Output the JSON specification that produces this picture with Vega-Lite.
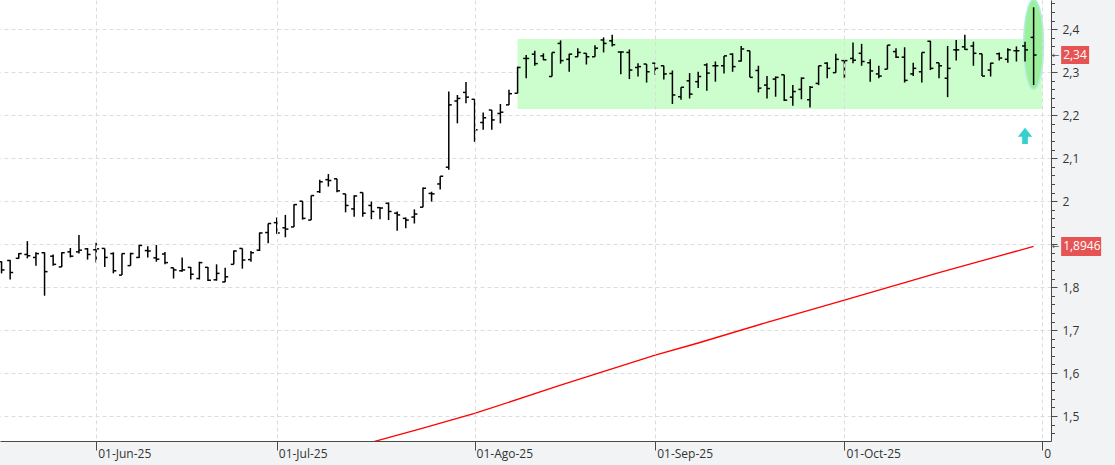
{
  "$schema": "https://vega.github.io/schema/vega-lite/v6.json",
  "width": 1051,
  "height": 441,
  "autosize": {"type": "none"},
  "padding": {"left": 0, "top": 0, "right": 64, "bottom": 24},
  "background": "#f2f3f5",
  "config": {"view": {"fill": "#ffffff", "stroke": null}},
  "datasets": {
    "ohlc": [
      {"date": "2025-05-16", "open": 1.859, "high": 1.86, "low": 1.832, "close": 1.84},
      {"date": "2025-05-19", "open": 1.862, "high": 1.863, "low": 1.818, "close": 1.834},
      {"date": "2025-05-20", "open": 1.867, "high": 1.879, "low": 1.866, "close": 1.878},
      {"date": "2025-05-21", "open": 1.876, "high": 1.907, "low": 1.867, "close": 1.873},
      {"date": "2025-05-22", "open": 1.869, "high": 1.881, "low": 1.85, "close": 1.878},
      {"date": "2025-05-23", "open": 1.88, "high": 1.881, "low": 1.78, "close": 1.836},
      {"date": "2025-05-26", "open": 1.872, "high": 1.876, "low": 1.85, "close": 1.853},
      {"date": "2025-05-27", "open": 1.847, "high": 1.881, "low": 1.847, "close": 1.88},
      {"date": "2025-05-28", "open": 1.882, "high": 1.891, "low": 1.869, "close": 1.872},
      {"date": "2025-05-29", "open": 1.882, "high": 1.921, "low": 1.878, "close": 1.886},
      {"date": "2025-05-30", "open": 1.889, "high": 1.891, "low": 1.864, "close": 1.876},
      {"date": "2025-06-02", "open": 1.887, "high": 1.903, "low": 1.857, "close": 1.889},
      {"date": "2025-06-03", "open": 1.89, "high": 1.89, "low": 1.847, "close": 1.869},
      {"date": "2025-06-04", "open": 1.878, "high": 1.881, "low": 1.832, "close": 1.838},
      {"date": "2025-06-05", "open": 1.828, "high": 1.878, "low": 1.828, "close": 1.878},
      {"date": "2025-06-06", "open": 1.85, "high": 1.88, "low": 1.85, "close": 1.878},
      {"date": "2025-06-09", "open": 1.869, "high": 1.898, "low": 1.868, "close": 1.897},
      {"date": "2025-06-10", "open": 1.885, "high": 1.895, "low": 1.869, "close": 1.884},
      {"date": "2025-06-11", "open": 1.868, "high": 1.898, "low": 1.859, "close": 1.865},
      {"date": "2025-06-12", "open": 1.877, "high": 1.882, "low": 1.853, "close": 1.857},
      {"date": "2025-06-13", "open": 1.845, "high": 1.845, "low": 1.82, "close": 1.84},
      {"date": "2025-06-16", "open": 1.838, "high": 1.869, "low": 1.836, "close": 1.84},
      {"date": "2025-06-17", "open": 1.846, "high": 1.847, "low": 1.818, "close": 1.83},
      {"date": "2025-06-18", "open": 1.82, "high": 1.859, "low": 1.818, "close": 1.857},
      {"date": "2025-06-19", "open": 1.846, "high": 1.847, "low": 1.814, "close": 1.816},
      {"date": "2025-06-20", "open": 1.817, "high": 1.853, "low": 1.815, "close": 1.832},
      {"date": "2025-06-23", "open": 1.812, "high": 1.845, "low": 1.812, "close": 1.824},
      {"date": "2025-06-24", "open": 1.853, "high": 1.885, "low": 1.853, "close": 1.884},
      {"date": "2025-06-25", "open": 1.89, "high": 1.89, "low": 1.843, "close": 1.863},
      {"date": "2025-06-26", "open": 1.864, "high": 1.884, "low": 1.859, "close": 1.88},
      {"date": "2025-06-27", "open": 1.886, "high": 1.927, "low": 1.884, "close": 1.926},
      {"date": "2025-06-30", "open": 1.927, "high": 1.948, "low": 1.902, "close": 1.948},
      {"date": "2025-07-01", "open": 1.95, "high": 1.962, "low": 1.924, "close": 1.926},
      {"date": "2025-07-02", "open": 1.938, "high": 1.968, "low": 1.916, "close": 1.935},
      {"date": "2025-07-03", "open": 1.94, "high": 1.993, "low": 1.94, "close": 1.992},
      {"date": "2025-07-04", "open": 2.0, "high": 2.0, "low": 1.957, "close": 1.96},
      {"date": "2025-07-07", "open": 1.956, "high": 2.013, "low": 1.956, "close": 2.013},
      {"date": "2025-07-08", "open": 2.022, "high": 2.05, "low": 2.019, "close": 2.045},
      {"date": "2025-07-09", "open": 2.05, "high": 2.063, "low": 2.034, "close": 2.048},
      {"date": "2025-07-10", "open": 2.052, "high": 2.052, "low": 2.021, "close": 2.024},
      {"date": "2025-07-11", "open": 2.017, "high": 2.017, "low": 1.974, "close": 1.99},
      {"date": "2025-07-14", "open": 1.982, "high": 2.014, "low": 1.964, "close": 2.012},
      {"date": "2025-07-15", "open": 2.02, "high": 2.02, "low": 1.964, "close": 1.972},
      {"date": "2025-07-16", "open": 1.99, "high": 1.999, "low": 1.958, "close": 1.976},
      {"date": "2025-07-17", "open": 1.985, "high": 1.986, "low": 1.958, "close": 1.984},
      {"date": "2025-07-18", "open": 1.995, "high": 1.997, "low": 1.956, "close": 1.976},
      {"date": "2025-07-21", "open": 1.972, "high": 1.976, "low": 1.931, "close": 1.968},
      {"date": "2025-07-22", "open": 1.96, "high": 1.962, "low": 1.937, "close": 1.956},
      {"date": "2025-07-23", "open": 1.963, "high": 1.981, "low": 1.948, "close": 1.97},
      {"date": "2025-07-24", "open": 1.986, "high": 2.032, "low": 1.986, "close": 2.03},
      {"date": "2025-07-25", "open": 2.018, "high": 2.022, "low": 1.999, "close": 2.017},
      {"date": "2025-07-28", "open": 2.04, "high": 2.058, "low": 2.027, "close": 2.058},
      {"date": "2025-07-29", "open": 2.079, "high": 2.255, "low": 2.073, "close": 2.224},
      {"date": "2025-07-30", "open": 2.233, "high": 2.247, "low": 2.181, "close": 2.239},
      {"date": "2025-07-31", "open": 2.253, "high": 2.277, "low": 2.228, "close": 2.242},
      {"date": "2025-08-01", "open": 2.237, "high": 2.237, "low": 2.138, "close": 2.166},
      {"date": "2025-08-04", "open": 2.183, "high": 2.206, "low": 2.166, "close": 2.194},
      {"date": "2025-08-05", "open": 2.212, "high": 2.212, "low": 2.166, "close": 2.189},
      {"date": "2025-08-06", "open": 2.204, "high": 2.226, "low": 2.181, "close": 2.207},
      {"date": "2025-08-07", "open": 2.224, "high": 2.259, "low": 2.224, "close": 2.25},
      {"date": "2025-08-08", "open": 2.251, "high": 2.313, "low": 2.251, "close": 2.311},
      {"date": "2025-08-11", "open": 2.332, "high": 2.34, "low": 2.286, "close": 2.332},
      {"date": "2025-08-12", "open": 2.342, "high": 2.35, "low": 2.315, "close": 2.32},
      {"date": "2025-08-13", "open": 2.338, "high": 2.344, "low": 2.328, "close": 2.329},
      {"date": "2025-08-14", "open": 2.29, "high": 2.346, "low": 2.29, "close": 2.346},
      {"date": "2025-08-15", "open": 2.367, "high": 2.374, "low": 2.32, "close": 2.327},
      {"date": "2025-08-18", "open": 2.33, "high": 2.343, "low": 2.301, "close": 2.342},
      {"date": "2025-08-19", "open": 2.336, "high": 2.356, "low": 2.336, "close": 2.346},
      {"date": "2025-08-20", "open": 2.344, "high": 2.344, "low": 2.318, "close": 2.336},
      {"date": "2025-08-21", "open": 2.336, "high": 2.363, "low": 2.336, "close": 2.356},
      {"date": "2025-08-22", "open": 2.375, "high": 2.381, "low": 2.346, "close": 2.367},
      {"date": "2025-08-25", "open": 2.373, "high": 2.387, "low": 2.36, "close": 2.364},
      {"date": "2025-08-26", "open": 2.347, "high": 2.348, "low": 2.295, "close": 2.347},
      {"date": "2025-08-27", "open": 2.346, "high": 2.353, "low": 2.284, "close": 2.305},
      {"date": "2025-08-28", "open": 2.311, "high": 2.321, "low": 2.29, "close": 2.313},
      {"date": "2025-08-29", "open": 2.319, "high": 2.319, "low": 2.276, "close": 2.301},
      {"date": "2025-09-01", "open": 2.321, "high": 2.321, "low": 2.294, "close": 2.309},
      {"date": "2025-09-02", "open": 2.315, "high": 2.315, "low": 2.283, "close": 2.296},
      {"date": "2025-09-03", "open": 2.297, "high": 2.304, "low": 2.226, "close": 2.247},
      {"date": "2025-09-04", "open": 2.243, "high": 2.265, "low": 2.236, "close": 2.265},
      {"date": "2025-09-05", "open": 2.28, "high": 2.298, "low": 2.239, "close": 2.249},
      {"date": "2025-09-08", "open": 2.278, "high": 2.301, "low": 2.263, "close": 2.29},
      {"date": "2025-09-09", "open": 2.317, "high": 2.321, "low": 2.257, "close": 2.298},
      {"date": "2025-09-10", "open": 2.315, "high": 2.325, "low": 2.278, "close": 2.315},
      {"date": "2025-09-11", "open": 2.315, "high": 2.338, "low": 2.297, "close": 2.338},
      {"date": "2025-09-12", "open": 2.342, "high": 2.344, "low": 2.301, "close": 2.313},
      {"date": "2025-09-15", "open": 2.326, "high": 2.361, "low": 2.325, "close": 2.354},
      {"date": "2025-09-16", "open": 2.35, "high": 2.35, "low": 2.288, "close": 2.288},
      {"date": "2025-09-17", "open": 2.304, "high": 2.315, "low": 2.253, "close": 2.263},
      {"date": "2025-09-18", "open": 2.27, "high": 2.291, "low": 2.239, "close": 2.262},
      {"date": "2025-09-19", "open": 2.284, "high": 2.29, "low": 2.243, "close": 2.288},
      {"date": "2025-09-22", "open": 2.294, "high": 2.294, "low": 2.233, "close": 2.235},
      {"date": "2025-09-23", "open": 2.242, "high": 2.27, "low": 2.222, "close": 2.255},
      {"date": "2025-09-24", "open": 2.26, "high": 2.288, "low": 2.237, "close": 2.286},
      {"date": "2025-09-25", "open": 2.236, "high": 2.268, "low": 2.218, "close": 2.265},
      {"date": "2025-09-26", "open": 2.274, "high": 2.315, "low": 2.27, "close": 2.315},
      {"date": "2025-09-29", "open": 2.321, "high": 2.323, "low": 2.286, "close": 2.309},
      {"date": "2025-09-30", "open": 2.299, "high": 2.343, "low": 2.299, "close": 2.33},
      {"date": "2025-10-01", "open": 2.327, "high": 2.328, "low": 2.286, "close": 2.327},
      {"date": "2025-10-02", "open": 2.332, "high": 2.369, "low": 2.321, "close": 2.328},
      {"date": "2025-10-03", "open": 2.344, "high": 2.366, "low": 2.315, "close": 2.325},
      {"date": "2025-10-06", "open": 2.322, "high": 2.33, "low": 2.278, "close": 2.303},
      {"date": "2025-10-07", "open": 2.296, "high": 2.315, "low": 2.286, "close": 2.291},
      {"date": "2025-10-08", "open": 2.307, "high": 2.363, "low": 2.307, "close": 2.363},
      {"date": "2025-10-09", "open": 2.348, "high": 2.356, "low": 2.333, "close": 2.335},
      {"date": "2025-10-10", "open": 2.335, "high": 2.358, "low": 2.276, "close": 2.281},
      {"date": "2025-10-13", "open": 2.296, "high": 2.322, "low": 2.291, "close": 2.309},
      {"date": "2025-10-14", "open": 2.301, "high": 2.346, "low": 2.276, "close": 2.346},
      {"date": "2025-10-15", "open": 2.372, "high": 2.373, "low": 2.305, "close": 2.309},
      {"date": "2025-10-16", "open": 2.322, "high": 2.322, "low": 2.286, "close": 2.315},
      {"date": "2025-10-17", "open": 2.286, "high": 2.361, "low": 2.242, "close": 2.309},
      {"date": "2025-10-20", "open": 2.352, "high": 2.375, "low": 2.327, "close": 2.352},
      {"date": "2025-10-21", "open": 2.359, "high": 2.387, "low": 2.352, "close": 2.353},
      {"date": "2025-10-22", "open": 2.361, "high": 2.371, "low": 2.315, "close": 2.344},
      {"date": "2025-10-23", "open": 2.343, "high": 2.343, "low": 2.291, "close": 2.291},
      {"date": "2025-10-24", "open": 2.305, "high": 2.322, "low": 2.29, "close": 2.321},
      {"date": "2025-10-27", "open": 2.343, "high": 2.346, "low": 2.327, "close": 2.333},
      {"date": "2025-10-28", "open": 2.33, "high": 2.356, "low": 2.322, "close": 2.352},
      {"date": "2025-10-29", "open": 2.35, "high": 2.36, "low": 2.325, "close": 2.35},
      {"date": "2025-10-30", "open": 2.361, "high": 2.371, "low": 2.325, "close": 2.352},
      {"date": "2025-10-31", "open": 2.381, "high": 2.451, "low": 2.27, "close": 2.34}
    ],
    "ma": [
      {"date": "2025-07-16", "ma": 1.439},
      {"date": "2025-07-24", "ma": 1.472},
      {"date": "2025-08-01", "ma": 1.506},
      {"date": "2025-08-15", "ma": 1.572},
      {"date": "2025-09-01", "ma": 1.642},
      {"date": "2025-09-08", "ma": 1.67},
      {"date": "2025-09-18", "ma": 1.718},
      {"date": "2025-10-01", "ma": 1.77},
      {"date": "2025-10-16", "ma": 1.834},
      {"date": "2025-10-31", "ma": 1.8946}
    ],
    "zone": [{"start": "2025-08-08", "end": "2025-11-03", "low": 2.2145, "high": 2.3774}],
    "focus": [{"date": "2025-10-31", "value": 2.3645}],
    "signal": [{"date": "2025-10-30", "value": 2.152}],
    "lastvalues": [
      {"date": "2025-10-31", "value": 2.34, "label": "2,34"},
      {"date": "2025-10-31", "value": 1.8946, "label": "1,8946"}
    ]
  },
  "encoding": {
    "x": {
      "field": "date",
      "type": "ordinal",
      "scale": {"type": "point", "padding": 0.6, "align": 0.15, "domain": {"unionWith": ["2025-11-03"]}},
      "axis": {
        "title": null,
        "orient": "bottom",
        "values": ["2025-06-02", "2025-07-01", "2025-08-01", "2025-09-01", "2025-10-01", "2025-11-03"],
        "labelExpr": "({'2025-06-02':'01-Jun-25','2025-07-01':'01-Jul-25','2025-08-01':'01-Ago-25','2025-09-01':'01-Sep-25','2025-10-01':'01-Oct-25','2025-11-03':'0'})[datum.value]",
        "labelAngle": 0,
        "grid": true,
        "gridColor": "#dcdcdc",
        "gridDash": [4, 3],
        "domainColor": "#4a4a4a",
        "tickColor": "#4a4a4a",
        "tickSize": 9,
        "labelAlign": "left",
        "labelBaseline": "top",
        "labelPadding": -2,
        "labelOffset": 1.5,
        "labelFont": "Open Sans",
        "labelFontSize": 12,
        "labelColor": "#333333",
        "labelOverlap": false
      }
    },
    "y": {
      "type": "quantitative",
      "scale": {"domain": [1.442, 2.468], "nice": false, "zero": false},
      "axis": {
        "title": null,
        "orient": "right",
        "values": [1.46, 1.48, 1.5, 1.52, 1.54, 1.56, 1.58, 1.6, 1.62, 1.64, 1.66, 1.68, 1.7, 1.72, 1.74, 1.76, 1.78, 1.8, 1.82, 1.84, 1.86, 1.88, 1.9, 1.92, 1.94, 1.96, 1.98, 2.0, 2.02, 2.04, 2.06, 2.08, 2.1, 2.12, 2.14, 2.16, 2.18, 2.2, 2.22, 2.24, 2.26, 2.28, 2.3, 2.32, 2.34, 2.36, 2.38, 2.4, 2.42, 2.44, 2.46],
        "labelExpr": "abs(datum.value*10 - round(datum.value*10)) < 0.01 && abs(datum.value - 1.9) > 0.01 ? replace(format(datum.value, '.1~f'), '.', ',') : ''",
        "tickSize": {"condition": {"test": "abs(datum.value*10 - round(datum.value*10)) < 0.01", "value": 6}, "value": 3.5},
        "gridOpacity": {"condition": {"test": "abs(datum.value*10 - round(datum.value*10)) < 0.01", "value": 1}, "value": 0},
        "grid": true,
        "gridColor": "#dcdcdc",
        "gridDash": [4, 3],
        "domainColor": "#4a4a4a",
        "tickColor": "#4a4a4a",
        "labelPadding": 5,
        "labelFont": "Open Sans",
        "labelFontSize": 12,
        "labelColor": "#333333",
        "labelOverlap": false
      }
    }
  },
  "layer": [
    {
      "data": {"name": "zone"},
      "mark": {"type": "rect", "color": "#ccfdcc"},
      "encoding": {
        "x": {"field": "start", "type": "ordinal"},
        "x2": {"field": "end"},
        "y": {"field": "low", "type": "quantitative"},
        "y2": {"field": "high"}
      }
    },
    {
      "data": {"name": "focus"},
      "mark": {"type": "point", "shape": "M0,-1A0.22,1 0 1,1 0,1A0.22,1 0 1,1 0,-1Z", "size": 8100, "filled": true, "fill": "#9cf09c", "stroke": "#b2eee6", "strokeWidth": 1.5, "opacity": 1},
      "encoding": {"y": {"field": "value", "type": "quantitative"}}
    },
    {
      "data": {"name": "ma"},
      "mark": {"type": "line", "color": "#ff0000", "strokeWidth": 1.3, "clip": true},
      "encoding": {"y": {"field": "ma", "type": "quantitative"}}
    },
    {
      "data": {"name": "ohlc"},
      "mark": {"type": "rule", "color": "#000000", "strokeWidth": 1.5},
      "encoding": {"y": {"field": "low", "type": "quantitative"}, "y2": {"field": "high"}}
    },
    {
      "data": {"name": "ohlc"},
      "mark": {"type": "point", "shape": "M-1,0H0", "size": 36, "filled": false, "stroke": "#000000", "strokeWidth": 1.5, "opacity": 1},
      "encoding": {"y": {"field": "open", "type": "quantitative"}}
    },
    {
      "data": {"name": "ohlc"},
      "mark": {"type": "point", "shape": "M0,0H1", "size": 36, "filled": false, "stroke": "#000000", "strokeWidth": 1.5, "opacity": 1},
      "encoding": {"y": {"field": "close", "type": "quantitative"}}
    },
    {
      "data": {"name": "signal"},
      "mark": {"type": "point", "shape": "M0,-1L0.88,0.1L0.35,0.1L0.35,1L-0.35,1L-0.35,0.1L-0.88,0.1Z", "size": 266, "filled": true, "fill": "#36cfcf", "strokeWidth": 0, "opacity": 1},
      "encoding": {"y": {"field": "value", "type": "quantitative"}}
    },
    {
      "data": {"name": "lastvalues"},
      "mark": {"type": "point", "size": 4, "filled": true, "fill": "#e55353", "strokeWidth": 0, "opacity": 1},
      "encoding": {
        "y": {"field": "value", "type": "quantitative"},
        "shape": {"field": "label", "type": "nominal", "legend": null, "scale": {"domain": ["2,34", "1,8946"], "range": ["M27.5,-9H55.5V9H27.5Z", "M27.5,-9.5H67.5V9.5H27.5Z"]}}
      }
    },
    {
      "data": {"name": "lastvalues"},
      "mark": {"type": "text", "align": "left", "baseline": "middle", "dx": 29.5, "color": "#ffffff", "font": "Open Sans", "fontSize": 12},
      "encoding": {"y": {"field": "value", "type": "quantitative"}, "text": {"field": "label"}}
    },
    {
      "data": {"name": "lastvalues"},
      "mark": {"type": "text", "align": "center", "baseline": "middle", "dx": 22, "color": "#555555", "font": "DejaVu Sans", "fontSize": 9},
      "encoding": {"y": {"field": "value", "type": "quantitative"}, "text": {"value": "←"}}
    }
  ]
}
